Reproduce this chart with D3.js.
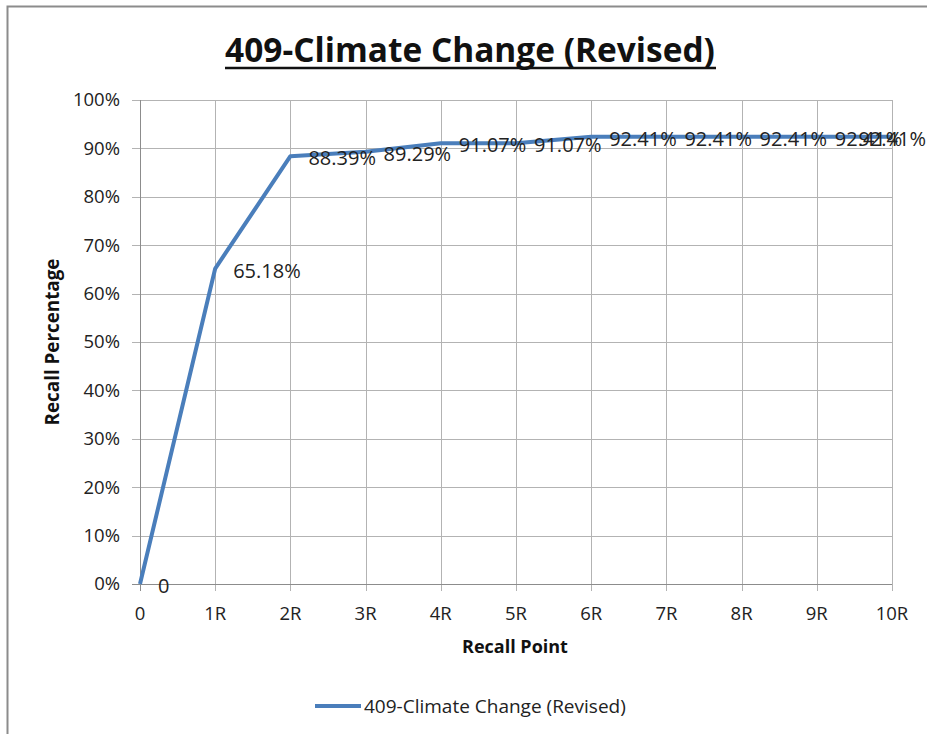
<!DOCTYPE html>
<html><head><meta charset="utf-8">
<script src="https://cdn.jsdelivr.net/npm/d3@7"></script>
<style>body{margin:0;background:#fff}svg{display:block}</style>
</head><body>
<svg id="c" width="927" height="734"></svg>
<script>
const categories = ["0","1R","2R","3R","4R","5R","6R","7R","8R","9R","10R"];
const values = [0, 0.6518, 0.8839, 0.8929, 0.9107, 0.9107, 0.9241, 0.9241, 0.9241, 0.9241, 0.9241];
const labels = ["0","65.18%","88.39%","89.29%","91.07%","91.07%","92.41%","92.41%","92.41%","92.41%","92.41%"];
const yTicks = [0,0.1,0.2,0.3,0.4,0.5,0.6,0.7,0.8,0.9,1.0];
const title = "409-Climate Change (Revised)";
const seriesName = "409-Climate Change (Revised)";
const xTitle = "Recall Point", yTitle = "Recall Percentage";

const svg = d3.select("#c");
const font = "Open Sans, Noto Sans, sans-serif";
const W = 927;
const L = 140, R = 892, T = 100, B = 584;
const x = d3.scalePoint().domain(categories).range([L, R]);
const y = d3.scaleLinear().domain([0,1]).range([B, T]);

// chart border
svg.append("path").attr("d","M7.5,734 V6.5 H927").attr("fill","none").attr("stroke","#8c8c8c").attr("stroke-width",2);

function fit(sel, w){ const n=sel.node(); const l=n.getComputedTextLength(); const fs=parseFloat(sel.attr("font-size")); sel.attr("font-size", fs*w/l); }

// gridlines
svg.append("g").selectAll("line").data(yTicks).join("line")
 .attr("x1",L-8).attr("x2",R).attr("y1",d=>Math.round(y(d))+0.5).attr("y2",d=>Math.round(y(d))+0.5)
 .attr("stroke","#b3b3b3").attr("stroke-width",1);
svg.append("g").selectAll("line").data(categories).join("line")
 .attr("x1",d=>Math.round(x(d))+0.5).attr("x2",d=>Math.round(x(d))+0.5).attr("y1",T).attr("y2",B+7)
 .attr("stroke","#b3b3b3").attr("stroke-width",1);
svg.append("line").attr("x1",L-8).attr("x2",R).attr("y1",B+0.5).attr("y2",B+0.5).attr("stroke","#8c8c8c");
svg.append("line").attr("x1",L+0.5).attr("x2",L+0.5).attr("y1",T).attr("y2",B+7).attr("stroke","#8c8c8c");

// tick labels
svg.append("g").selectAll("text").data(yTicks).join("text")
 .attr("x",L-20).attr("y",d=>y(d)).attr("dy","0.35em").attr("text-anchor","end")
 .attr("font-family",font).attr("font-size",18.5).attr("fill","#222").text(d=>Math.round(d*100)+"%");
svg.append("g").selectAll("text").data(categories).join("text")
 .attr("x",d=>x(d)).attr("y",B+36).attr("text-anchor","middle")
 .attr("font-family",font).attr("font-size",18.5).attr("fill","#222").text(d=>d);

// axis titles
svg.append("text").attr("x",515).attr("y",653).attr("text-anchor","middle").attr("font-family",font)
 .attr("font-weight","bold").attr("font-size",18).attr("fill","#111").text(xTitle);
const yt = svg.append("text").attr("transform","translate(59,342) rotate(-90)").attr("text-anchor","middle").attr("font-family",font)
 .attr("font-weight","bold").attr("font-size",18).attr("fill","#111").text(yTitle);
fit(yt, 167);

// title
const t = svg.append("text").attr("x",470).attr("y",62).attr("text-anchor","middle").attr("font-family",font)
 .attr("font-weight","bold").attr("font-size",30).attr("fill","#111").text(title);
fit(t, 490);
svg.append("line").attr("x1",225).attr("x2",716).attr("y1",68).attr("y2",68).attr("stroke","#111").attr("stroke-width",2.5);

// line
const data = categories.map((c,i)=>({c, v:values[i], lab:labels[i]}));
svg.append("path").datum(data).attr("d", d3.line().x(d=>x(d.c)).y(d=>y(d.v)))
 .attr("fill","none").attr("stroke","#4a7ebb").attr("stroke-width",4).attr("stroke-linejoin","round");

// data labels
svg.append("g").selectAll("text").data(data).join("text")
 .attr("x",d=>x(d.c)+18).attr("y",d=>y(d.v)+2).attr("dy","0.35em")
 .attr("font-family",font).attr("font-size",20).attr("fill","#222").text(d=>d.lab)
 .each(function(){ const s=d3.select(this); const w=this.getComputedTextLength(); const x0=+s.attr("x"); if (x0+w > W-1) s.attr("x", W-1-w); });

// legend
svg.append("line").attr("x1",315).attr("x2",361).attr("y1",706).attr("y2",706).attr("stroke","#4a7ebb").attr("stroke-width",4);
const lg = svg.append("text").attr("x",364).attr("y",706).attr("dy","0.35em").attr("font-family",font)
 .attr("font-size",18).attr("fill","#222").text(seriesName);
fit(lg, 262);
</script>
</body></html>
